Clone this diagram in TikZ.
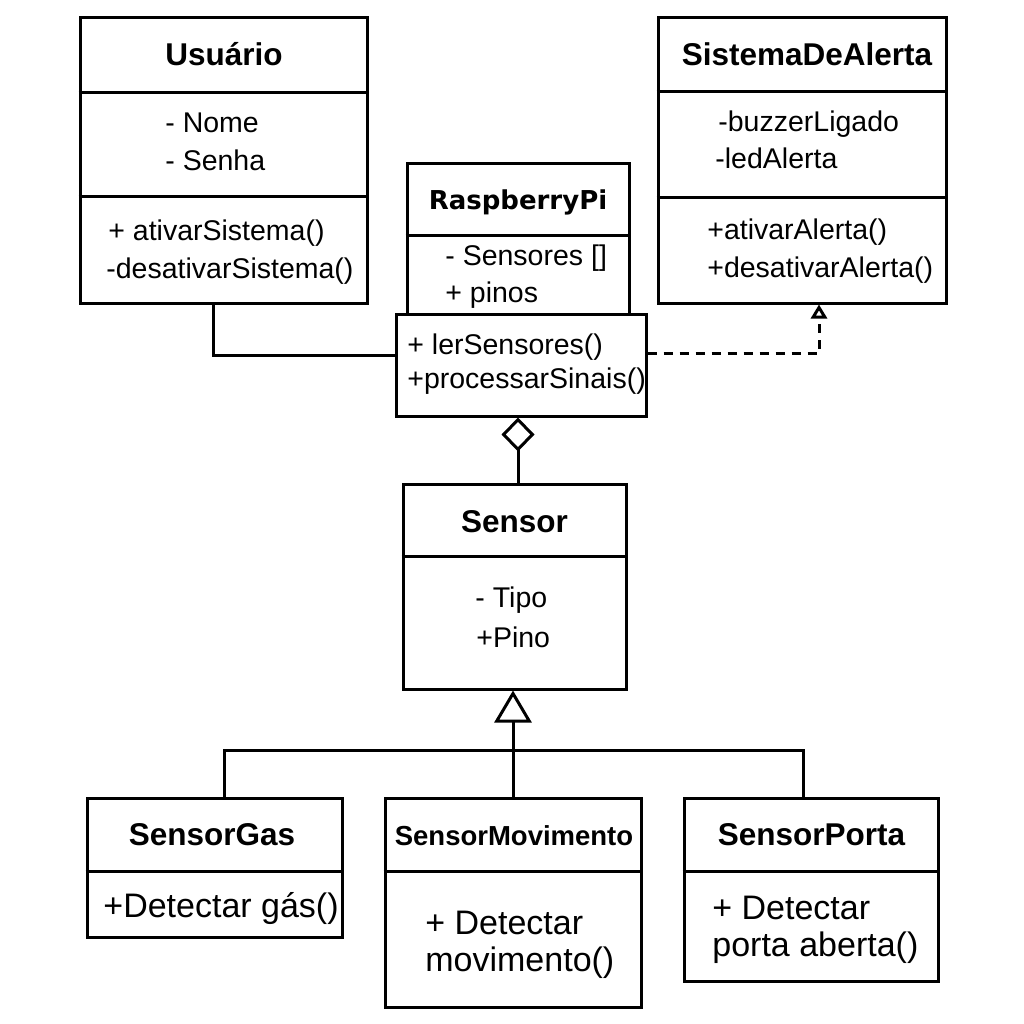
\documentclass[tikz,border=0pt]{standalone}
\usepackage{fontspec}
\setmainfont{Liberation Sans}
\newfontfamily\rpfont{DejaVu Sans}
\usetikzlibrary{positioning, fit, arrows.meta}

\tikzset{
  classbox/.style={draw, line width=1.5pt, inner sep=0pt, fill=white},
  title/.style={anchor=base, inner sep=0pt, font=\fontsize{15.75}{18}\selectfont\bfseries},
  member/.style={anchor=base west, inner sep=0pt, font=\fontsize{14.25}{17}\selectfont},
  bigmember/.style={anchor=base west, inner sep=0pt, font=\fontsize{17}{20}\selectfont},
  link/.style={line width=1.5pt},
}

\begin{document}
\begin{tikzpicture}[x=0.5pt, y=-0.5pt]
\useasboundingbox (0,0) rectangle (1024,1024);

% classes
\node[classbox, fit={(80,17) (367,303)}] (usr) {};
\node[classbox, fit={(658,17) (946,303)}] (alert) {};
\node[classbox, fit={(407,163) (629,314)}] (rpa) {};
\node[classbox, fit={(396,314) (646,416)}] (rpm) {};
\node[classbox, fit={(403,484) (626,689)}] (sensor) {};
\node[classbox, fit={(87,798) (342,937)}] (gas) {};
\node[classbox, fit={(385,798) (641,1007)}] (mov) {};
\node[classbox, fit={(684,798) (938,981)}] (porta) {};

% compartments
\draw[link] (usr.west |- 0,92) -- (usr.east |- 0,92);
\draw[link] (usr.west |- 0,196) -- (usr.east |- 0,196);
\draw[link] (alert.west |- 0,91) -- (alert.east |- 0,91);
\draw[link] (alert.west |- 0,197) -- (alert.east |- 0,197);
\draw[link] (rpa.west |- 0,235) -- (rpa.east |- 0,235);
\draw[link] (sensor.west |- 0,556) -- (sensor.east |- 0,556);
\draw[link] (gas.west |- 0,871) -- (gas.east |- 0,871);
\draw[link] (mov.west |- 0,871) -- (mov.east |- 0,871);
\draw[link] (porta.west |- 0,871) -- (porta.east |- 0,871);

% Usuario
\node[title] (usrT) at (224,65) {Usuário};
\node[member] (usrA1) at (165,132) {- Nome};
\node[member] (usrA2) at (165,170) {- Senha};
\node[member] (usrM1) at (108,240) {+ ativarSistema()};
\node[member] (usrM2) at (106,278) {-desativarSistema()};

% SistemaDeAlerta
\node[title] (alertT) at (807,65) {SistemaDeAlerta};
\node[member] (alertA1) at (718,131) {-buzzerLigado};
\node[member] (alertA2) at (715,168) {-ledAlerta};
\node[member] (alertM1) at (707,239) {+ativarAlerta()};
\node[member] (alertM2) at (707,277) {+desativarAlerta()};

% RaspberryPi
\node[anchor=base, inner sep=0pt, font=\rpfont\fontsize{13}{16}\selectfont\bfseries] (rpT) at (518,209) {RaspberryPi};
\node[member] (rpA1) at (445,265) {- Sensores []};
\node[member] (rpA2) at (445,302) {+ pinos};
\node[member] (rpM1) at (407,354) {+ lerSensores()};
\node[member] (rpM2) at (407,388) {+processarSinais()};

% Sensor
\node[title] (sensorT) at (514.5,532) {Sensor};
\node[member] (sensorA1) at (475,607) {- Tipo};
\node[member] (sensorA2) at (476,647) {+Pino};

% subclasses
\node[title] (gasT) at (212,845) {SensorGas};
\node[bigmember] (gasM) at (103,917) {+Detectar gás()};
\node[title, font=\fontsize{13.75}{16}\selectfont\bfseries] (movT) at (514,845) {SensorMovimento};
\node[bigmember] (movM1) at (425,934) {+ Detectar};
\node[bigmember] (movM2) at (425,971) {movimento()};
\node[title] (portaT) at (811.5,845) {SensorPorta};
\node[bigmember] (portaM1) at (712,919) {+ Detectar};
\node[bigmember] (portaM2) at (712,956) {porta aberta()};

% relations
\draw[link] (usr.south -| 213,0) |- (rpm.west |- 0,355);
\draw[link, dash pattern=on 4.5pt off 3.5pt, -{Triangle[open, length=7pt, width=8pt]}]
  (rpm.east |- 0,353) -| (alert.south -| 819,0);
\draw[link, -{Diamond[open, length=17pt, width=16.5pt]}] (sensor.north -| 518,0) -- (rpm.south -| 518,0);
\draw[link, -{Triangle[open, length=16pt, width=18.5pt]}] (mov.north) -- (sensor.south -| mov.north);
\coordinate (bus) at (513,750);
\draw[link] (gas.north -| 224,0) |- (bus) -| (porta.north -| 803,0);

\end{tikzpicture}
\end{document}
